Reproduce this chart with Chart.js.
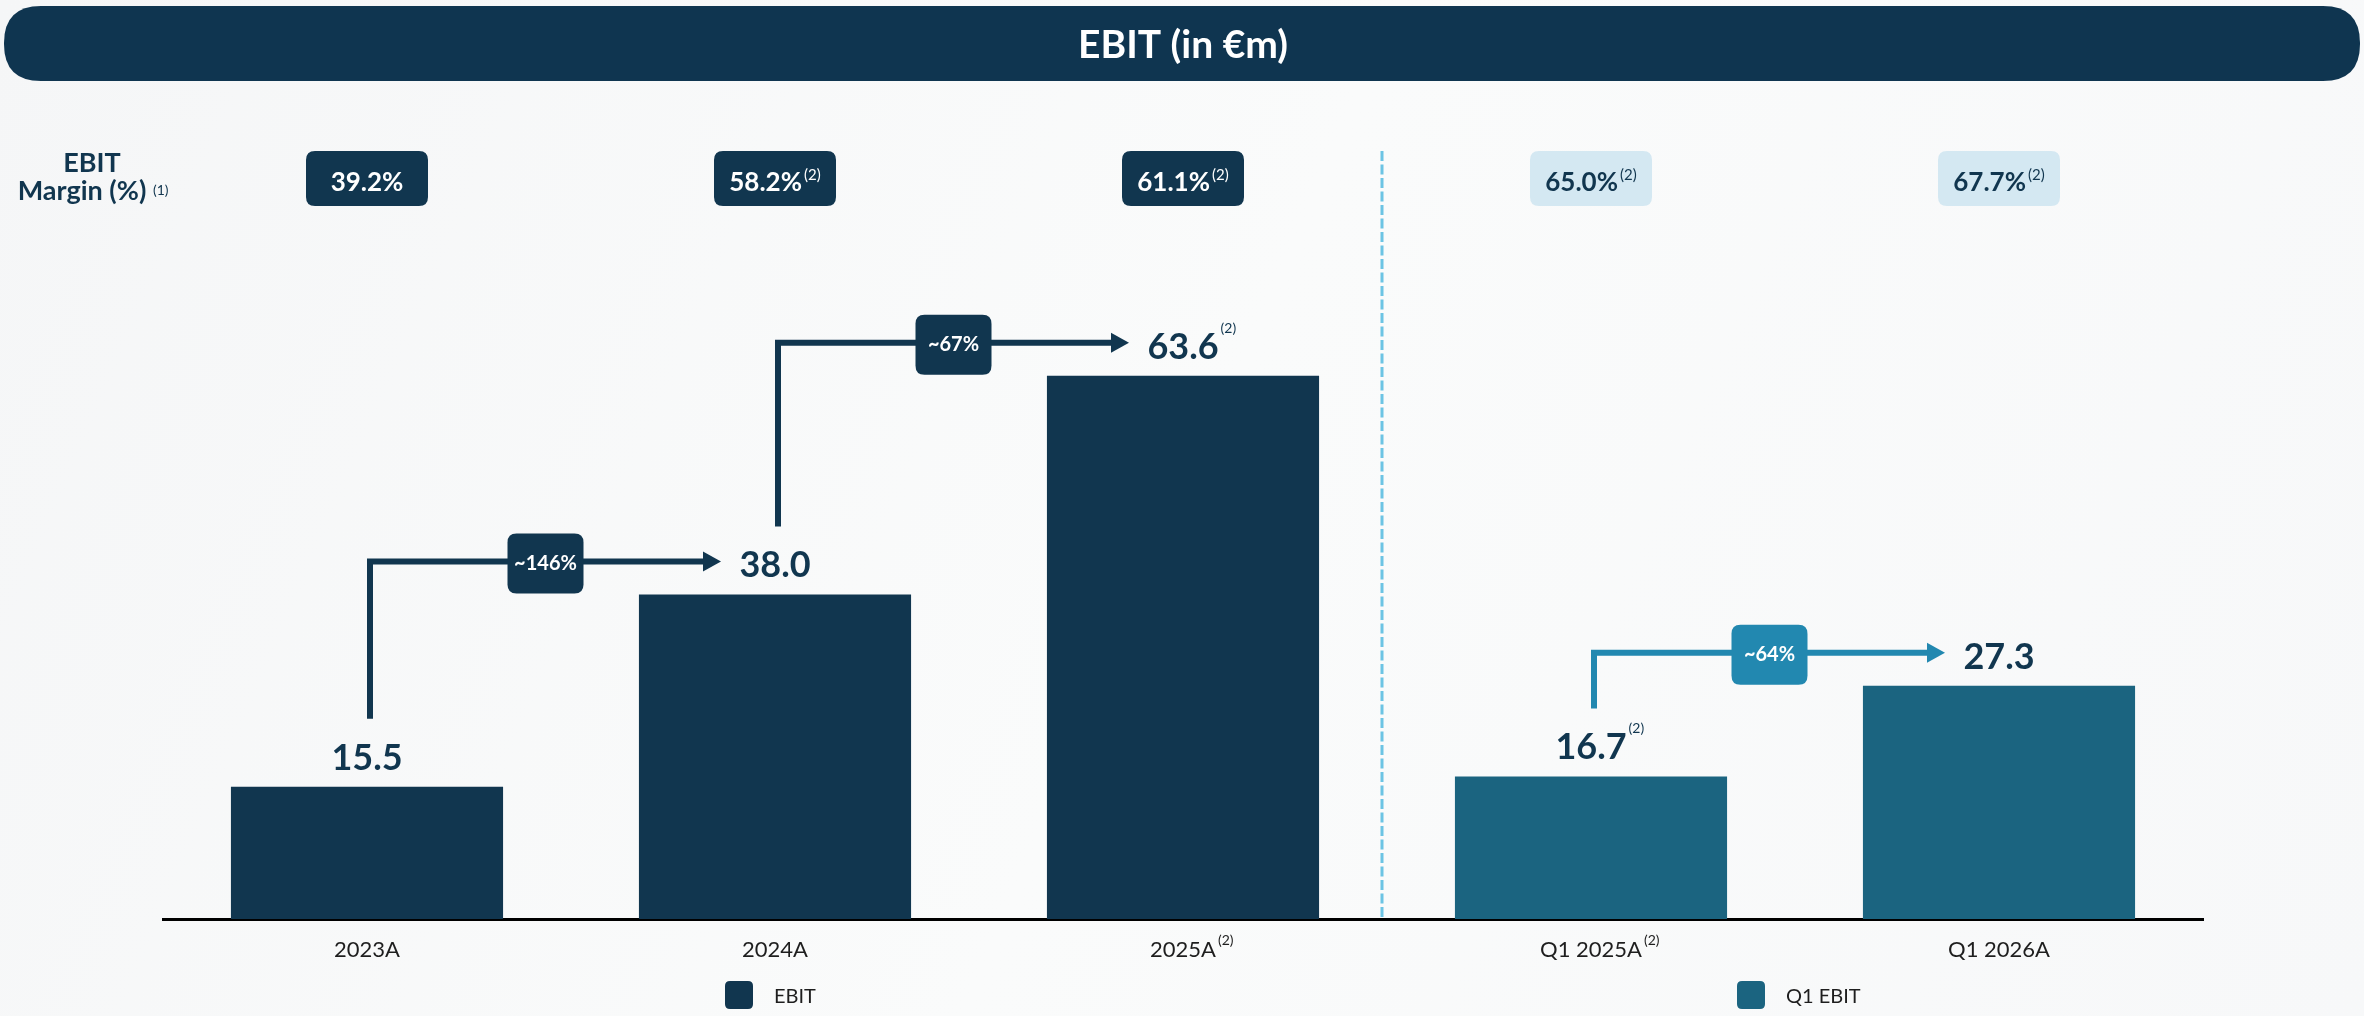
<!DOCTYPE html>
<html>
<head>
<meta charset="utf-8">
<script src="https://cdn.jsdelivr.net/npm/chart.js@4.4.1/dist/chart.umd.min.js"></script>
<style>
  html, body { margin: 0; padding: 0; background: #f8f9fa; }
  #wrap { width: 2364px; height: 1016px; }
</style>
</head>
<body>
<div id="wrap"><canvas id="c" width="2364" height="1016"></canvas></div>
<script>
// ---- data ----
const categories = ['2023A', '2024A', '2025A', 'Q1 2025A', 'Q1 2026A'];
const categoryNotes = ['', '', '(2)', '(2)', ''];
const ebitValues = [15.5, 38.0, 63.6, null, null];
const q1EbitValues = [null, null, null, 16.7, 27.3];
const valueNotes = ['', '', '(2)', '(2)', ''];
const marginLabels = ['39.2%', '58.2%', '61.1%', '65.0%', '67.7%'];
const marginNotes = ['', '(2)', '(2)', '(2)', '(2)'];
const growthLabels = ['~146%', '~67%', '~64%'];
const growthFrom = [0, 1, 3];
const growthTo = [1, 2, 4];
const seriesNames = ['EBIT', 'Q1 EBIT'];
const titleText = 'EBIT (in €m)';

// ---- styles ----
const DARK = '#11364f';
const Q1 = '#1b6480';
const ARROW_Q1 = '#2288b0';
const LIGHT_BOX = '#d4e8f2';
const FONT = 'Lato, "Open Sans", sans-serif';

function rr(ctx, x, y, w, h, r) {
  ctx.beginPath();
  ctx.moveTo(x + r, y);
  ctx.lineTo(x + w - r, y);
  ctx.quadraticCurveTo(x + w, y, x + w, y + r);
  ctx.lineTo(x + w, y + h - r);
  ctx.quadraticCurveTo(x + w, y + h, x + w - r, y + h);
  ctx.lineTo(x + r, y + h);
  ctx.quadraticCurveTo(x, y + h, x, y + h - r);
  ctx.lineTo(x, y + r);
  ctx.quadraticCurveTo(x, y, x + r, y);
  ctx.closePath();
}

function textWithSup(ctx, main, sup, cx, baseline, mainFont, supFont, color, supRise, centerWhole) {
  ctx.font = mainFont;
  const mw = ctx.measureText(main).width;
  ctx.font = supFont;
  const sw = sup ? ctx.measureText(sup).width + 2 : 0;
  const left = centerWhole ? cx - (mw + sw) / 2 : cx - mw / 2;
  ctx.fillStyle = color;
  ctx.textAlign = 'left';
  ctx.textBaseline = 'alphabetic';
  ctx.font = mainFont;
  ctx.fillText(main, left, baseline);
  if (sup) {
    ctx.font = supFont;
    ctx.fillText(sup, left + mw + 2, baseline - supRise);
  }
}

const decor = {
  id: 'decor',
  beforeDraw(chart) {
    const ctx = chart.ctx;
    ctx.save();
    const g = ctx.createLinearGradient(0, 0, 2364, 1016);
    g.addColorStop(0, '#f5f6f7');
    g.addColorStop(0.5, '#fafbfb');
    g.addColorStop(1, '#f7f8f9');
    ctx.fillStyle = g;
    ctx.fillRect(0, 0, chart.width, chart.height);
    // title banner
    ctx.fillStyle = '#0f3550';
    rr(ctx, 4, 6, 2356, 75, 37);
    ctx.fill();
    ctx.fillStyle = '#ffffff';
    ctx.font = 'bold 39px ' + FONT;
    ctx.textAlign = 'center';
    ctx.textBaseline = 'middle';
    ctx.fillText(titleText, 1183, 45);
    ctx.restore();
  },
  afterDraw(chart) {
    const ctx = chart.ctx;
    const xs = chart.scales.x, ys = chart.scales.y;
    const area = chart.chartArea;
    ctx.save();

    // EBIT Margin row label
    ctx.fillStyle = DARK;
    ctx.textAlign = 'center';
    ctx.textBaseline = 'alphabetic';
    ctx.font = 'bold 27px ' + FONT;
    ctx.fillText('EBIT', 92, 172);
    ctx.fillText('Margin (%)', 82, 200);
    ctx.font = '14px ' + FONT;
    ctx.textAlign = 'left';
    ctx.fillText('(1)', 153, 195);

    // margin boxes
    marginLabels.forEach((m, i) => {
      const cx = xs.getPixelForValue(i);
      const dark = i < 3;
      ctx.fillStyle = dark ? DARK : LIGHT_BOX;
      rr(ctx, cx - 61, 151, 122, 55, 9);
      ctx.fill();
      textWithSup(ctx, m, marginNotes[i], cx, 191, 'bold 26px ' + FONT, '15px ' + FONT,
        dark ? '#ffffff' : DARK, 11, true);
    });

    // dashed divider
    const dx = (xs.getPixelForValue(2) + xs.getPixelForValue(3)) / 2 - 5;
    ctx.strokeStyle = '#6cc4e4';
    ctx.lineWidth = 3;
    ctx.setLineDash([10, 3.5]);
    ctx.beginPath();
    ctx.moveTo(dx, 151);
    ctx.lineTo(dx, area.bottom - 1);
    ctx.stroke();
    ctx.setLineDash([]);

    // value labels
    const allVals = ebitValues.map((v, i) => v !== null ? v : q1EbitValues[i]);
    allVals.forEach((v, i) => {
      const cx = xs.getPixelForValue(i);
      const top = ys.getPixelForValue(v);
      textWithSup(ctx, v.toFixed(1), valueNotes[i], cx, top - 17, 'bold 36px ' + FONT, '14px ' + FONT,
        DARK, 26, false);
    });

    // growth arrows
    growthLabels.forEach((lab, k) => {
      const a = growthFrom[k], b = growthTo[k];
      const col = a >= 3 ? ARROW_Q1 : DARK;
      const x0 = xs.getPixelForValue(a) + 3;
      const yBottom = ys.getPixelForValue(allVals[a]) - 68;
      const yLine = ys.getPixelForValue(allVals[b]) - 33;
      const xTip = xs.getPixelForValue(b) - 54;
      ctx.strokeStyle = col;
      ctx.fillStyle = col;
      ctx.lineWidth = 6;
      ctx.lineCap = 'butt';
      ctx.lineJoin = 'miter';
      ctx.beginPath();
      ctx.moveTo(x0, yBottom);
      ctx.lineTo(x0, yLine);
      ctx.lineTo(xTip - 14, yLine);
      ctx.stroke();
      ctx.beginPath();
      ctx.moveTo(xTip, yLine);
      ctx.lineTo(xTip - 18, yLine - 10);
      ctx.lineTo(xTip - 18, yLine + 10);
      ctx.closePath();
      ctx.fill();
      const bx = (x0 + xTip) / 2;
      rr(ctx, bx - 38, yLine - 28, 76, 60, 9);
      ctx.fill();
      ctx.fillStyle = '#ffffff';
      ctx.font = 'bold 20px ' + FONT;
      ctx.textAlign = 'center';
      ctx.textBaseline = 'middle';
      ctx.fillText(lab, bx, yLine + 2);
    });

    // category labels
    categories.forEach((c, i) => {
      const cx = xs.getPixelForValue(i);
      textWithSup(ctx, c, categoryNotes[i], cx, 957, '22px ' + FONT, '14px ' + FONT, '#1e1e1e', 12, false);
    });

    // legend
    const legendX = [xs.getPixelForValue(1) - 50,
                     (xs.getPixelForValue(3) + xs.getPixelForValue(4)) / 2 - 58];
    chart.data.datasets.forEach((ds, k) => {
      const lx = legendX[k];
      ctx.fillStyle = ds.backgroundColor;
      rr(ctx, lx, 981, 28, 28, 5);
      ctx.fill();
      ctx.fillStyle = '#1e1e1e';
      ctx.font = '20px ' + FONT;
      ctx.textAlign = 'left';
      ctx.textBaseline = 'alphabetic';
      ctx.fillText(ds.label, lx + 49, 1003);
    });

    ctx.restore();
  }
};

new Chart(document.getElementById('c'), {
  type: 'bar',
  data: {
    labels: categories,
    datasets: [
      { label: seriesNames[0], data: ebitValues, backgroundColor: DARK, grouped: false,
        categoryPercentage: 1, barPercentage: 0.667 },
      { label: seriesNames[1], data: q1EbitValues, backgroundColor: Q1, grouped: false,
        categoryPercentage: 1, barPercentage: 0.667 }
    ]
  },
  options: {
    responsive: false,
    animation: false,
    layout: { padding: { top: 65, bottom: 97, left: 163, right: 161 } },
    plugins: { legend: { display: false }, tooltip: { enabled: false } },
    scales: {
      x: {
        display: true,
        z: 1,
        grid: { display: false, drawTicks: false },
        ticks: { display: false },
        border: { display: true, color: '#000000', width: 3 }
      },
      y: { display: false, min: 0, max: 100 }
    }
  },
  plugins: [decor]
});
</script>
</body>
</html>
